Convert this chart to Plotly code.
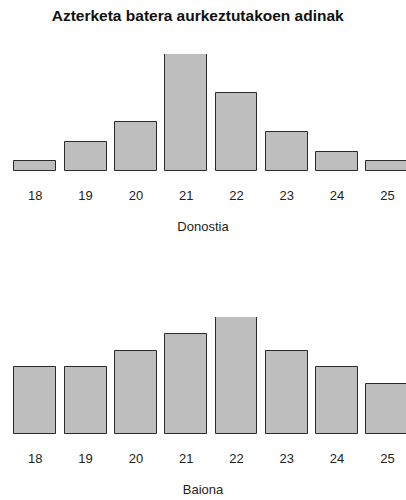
import plotly.graph_objects as go

ages = ["18", "19", "20", "21", "22", "23", "24", "25"]
donostia = [1, 3, 5, 12, 8, 4, 2, 1]
baiona = [4, 4, 5, 6, 7, 5, 4, 3]

title = "Azterketa batera aurkeztutakoen adinak"
H = 500
W = 406

fig = go.Figure()
bar_style = dict(marker=dict(color="#bebebe", line=dict(color="#2a2a2a", width=1)),
                 width=0.833, showlegend=False, hoverinfo="skip")
fig.add_trace(go.Bar(x=list(range(len(ages))), y=donostia, xaxis="x", yaxis="y", **bar_style))
fig.add_trace(go.Bar(x=list(range(len(ages))), y=baiona, xaxis="x2", yaxis="y2", **bar_style))

def frac(px):
    return (H - px) / H

xr = [-35.3 / 50.3, (W - 35.3) / 50.3]
font = dict(family="Liberation Sans, Arial, sans-serif", size=13, color="#222222")
xcommon = dict(range=xr, domain=[0, 1], tickmode="array", tickvals=list(range(len(ages))),
               ticktext=ages, showgrid=False, zeroline=False, showline=False,
               ticks="outside", ticklen=12, tickcolor="rgba(0,0,0,0)", tickfont=font,
               fixedrange=True)
ycommon = dict(showgrid=False, zeroline=False, showline=False, showticklabels=False,
               ticks="", fixedrange=True)

fig.update_layout(
    width=W, height=H,
    margin=dict(l=0, r=0, t=0, b=0),
    paper_bgcolor="white", plot_bgcolor="white",
    bargap=0,
    title=dict(text="<b>" + title + "</b>", x=0.487, xanchor="center", y=1 - 16 / H,
               yanchor="middle", font=dict(family="Liberation Sans, Arial, sans-serif",
                                            size=15.5, color="#111111")),
    xaxis=dict(anchor="y", title=dict(text="Donostia", font=font, standoff=20), **xcommon),
    yaxis=dict(domain=[frac(171), frac(54)], range=[0, 12], **ycommon),
    xaxis2=dict(anchor="y2", title=dict(text="Baiona", font=font, standoff=19), **xcommon),
    yaxis2=dict(domain=[frac(434.3), frac(317)], range=[0, 7], **ycommon),
)

fig.write_html("out.html", config={"displayModeBar": False},
               post_script="document.body.style.margin='0';document.body.style.overflow='hidden';")
